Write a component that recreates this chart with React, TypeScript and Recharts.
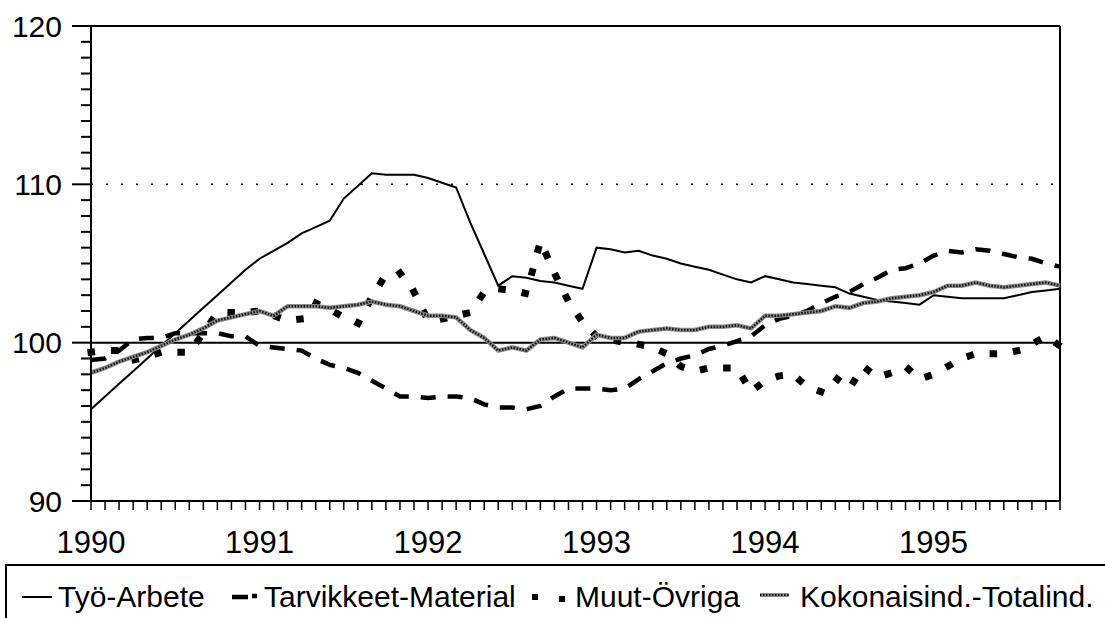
import React from "react";
import { LineChart, Line, XAxis, YAxis, ReferenceLine } from "recharts";

// monthly index values, Jan 1990 .. Oct 1995 (1990 = 100 base)
const yearLabels = ["1990", "1991", "1992", "1993", "1994", "1995"];

const tyo = [
  95.8, 96.6, 97.4, 98.2, 99.0, 99.8, 100.6, 101.4, 102.2, 103.0, 103.8, 104.6,
  105.3, 105.8, 106.3, 106.9, 107.3, 107.7, 109.1, 109.9, 110.7, 110.6, 110.6, 110.6,
  110.4, 110.1, 109.8, 107.6, 105.6, 103.6, 104.2, 104.1, 103.9, 103.8, 103.6, 103.4,
  106.0, 105.9, 105.7, 105.8, 105.5, 105.3, 105.0, 104.8, 104.6, 104.3, 104.0, 103.8,
  104.2, 104.0, 103.8, 103.7, 103.6, 103.5, 103.1, 102.9, 102.7, 102.6, 102.5, 102.4,
  103.0, 102.9, 102.8, 102.8, 102.8, 102.8, 103.0, 103.2, 103.3, 103.4,
];

const tarvikkeet = [
  98.9, 99.0, 99.5, 100.2, 100.3, 100.3, 100.6, 100.6, 100.6, 100.6, 100.4, 100.4,
  99.8, 99.7, 99.6, 99.5, 99.0, 98.6, 98.4, 98.1, 97.6, 97.1, 96.6, 96.6,
  96.5, 96.6, 96.6, 96.5, 96.1, 95.9, 95.9, 95.8, 96.0, 96.6, 97.1, 97.1,
  97.1, 97.0, 97.1, 97.7, 98.2, 98.7, 99.0, 99.2, 99.6, 99.8, 100.1, 100.4,
  101.1, 101.5, 101.7, 102.0, 102.5, 102.9, 103.2, 103.7, 104.1, 104.6, 104.7, 105.0,
  105.5, 105.8, 105.7, 105.9, 105.8, 105.6, 105.4, 105.3, 105.0, 104.8,
];

const muut = [
  99.4, 99.5, 99.5, 98.9, 99.1, 99.4, 99.4, 99.4, 100.6, 101.9, 101.9, 101.9,
  102.0, 101.7, 101.4, 101.5, 102.5, 102.1, 101.6, 101.2, 102.9, 104.3, 104.4, 103.2,
  101.4, 101.5, 101.7, 101.9, 103.2, 103.4, 103.3, 103.1, 106.4, 104.4, 102.6, 101.3,
  100.4, 100.2, 100.0, 99.9, 99.7, 99.3, 98.5, 98.2, 98.4, 98.4, 98.4, 96.9,
  97.6, 97.9, 98.0, 97.2, 96.9, 97.8, 97.1, 98.5, 97.8, 98.1, 98.5, 97.7,
  98.0, 98.5, 99.0, 99.3, 99.3, 99.3, 99.5, 99.9, 100.4, 99.8,
];

const kokonais = [
  98.1, 98.4, 98.8, 99.1, 99.4, 99.8, 100.2, 100.5, 100.9, 101.4, 101.6, 101.8,
  102.0, 101.7, 102.3, 102.3, 102.3, 102.2, 102.3, 102.4, 102.6, 102.4, 102.3, 102.0,
  101.7, 101.7, 101.6, 100.8, 100.3, 99.5, 99.7, 99.5, 100.2, 100.3, 100.0, 99.7,
  100.5, 100.3, 100.3, 100.7, 100.8, 100.9, 100.8, 100.8, 101.0, 101.0, 101.1, 100.9,
  101.7, 101.7, 101.8, 101.9, 102.0, 102.3, 102.2, 102.5, 102.6, 102.8, 102.9, 103.0,
  103.2, 103.6, 103.6, 103.8, 103.6, 103.5, 103.6, 103.7, 103.8, 103.6,
];

const yMajor = [90, 100, 110, 120];
const yTicks = Array.from({ length: 31 }, (_, k) => 90 + k);
const monthTicks = tyo.map((_, i) => i);

const data = tyo.map((v, i) => ({
  m: i,
  tyo: v,
  tarvikkeet: tarvikkeet[i],
  muut: muut[i],
  kokonais: kokonais[i],
}));

const FONT = "'Liberation Sans', Arial, Helvetica, sans-serif";

// tick anchor x sits 31px left of the axis line (tickSize 10 + tickMargin 21)
const YTick = (props: any) => {
  const x = Number(props.x);
  const y = Number(props.y);
  const v = props.payload.value;
  const major = yMajor.includes(v);
  return (
    <g>
      <rect x={major ? x + 12 : x + 21} y={y - 1} width={major ? 19 : 10} height={2} fill="#000" />
      {major && (
        <text x={x + 2} y={y} dy="0.36em" textAnchor="end" fontSize={30} fontFamily={FONT} fill="#000">
          {v}
        </text>
      )}
    </g>
  );
};

const legendFont = { fontFamily: FONT, fontSize: 30, fill: "#000" } as const;

const LegendBox = () => (
  <svg width={1105} height={618 - 563} style={{ position: "absolute", left: 0, top: 563 }}>
    <rect x={6} y={2} width={1120} height={80} fill="none" stroke="#000" strokeWidth={2} />
    <line x1={22} x2={52} y1={34} y2={34} stroke="#000" strokeWidth={2} />
    <text x={58} y={44} {...legendFont}>Työ-Arbete</text>
    <line x1={232} x2={248} y1={34} y2={34} stroke="#000" strokeWidth={4.5} />
    <line x1={252} x2={257} y1={33} y2={33} stroke="#000" strokeWidth={4.5} />
    <text x={264} y={44} {...legendFont}>Tarvikkeet-Material</text>
    <rect x={532} y={31} width={6} height={6} fill="#000" />
    <rect x={559} y={33} width={6} height={6} fill="#000" />
    <text x={575} y={44} {...legendFont}>Muut-Övriga</text>
    <line x1={760} x2={789} y1={32} y2={32} stroke="#8c8c8c" strokeWidth={4} />
    <line x1={760} x2={789} y1={32} y2={32} stroke="#111" strokeWidth={2} strokeDasharray="1.5 1.5" />
    <text x={800} y={44} {...legendFont}>Kokonaisind.-Totalind.</text>
  </svg>
);

export default function App() {
  return (
    <div
      style={{
        position: "absolute",
        left: 0,
        top: 0,
        width: 1105,
        height: 618,
        overflow: "hidden",
        background: "#fff",
      }}
    >
      <LineChart
        width={1105}
        height={618}
        data={data}
        margin={{ top: 26, right: 45, bottom: 57, left: 0 }}
      >
        <XAxis
          dataKey="m"
          type="number"
          domain={[0, 69]}
          ticks={monthTicks}
          interval={0}
          tickSize={9}
          tickMargin={21}
          axisLine={{ stroke: "#000", strokeWidth: 2 }}
          tickLine={{ stroke: "#000", strokeWidth: 1.5 }}
          tick={{ fontSize: 31, fill: "#000", fontFamily: FONT }}
          tickFormatter={(i: number) => (i % 12 === 0 ? yearLabels[i / 12] : "")}
          height={60}
        />
        <YAxis
          type="number"
          domain={[90, 120]}
          ticks={yTicks}
          interval={0}
          width={91}
          tickSize={10}
          tickMargin={21}
          tickLine={false}
          axisLine={{ stroke: "#000", strokeWidth: 2 }}
          tick={<YTick />}
        />
        <ReferenceLine y={110} stroke="#000" strokeWidth={1.5} strokeDasharray="2 13" />
        <ReferenceLine y={100} stroke="#000" strokeWidth={2} />
        <ReferenceLine y={120} stroke="#000" strokeWidth={2} />
        <ReferenceLine x={69} stroke="#000" strokeWidth={2} />
        <Line
          dataKey="tyo"
          stroke="#000"
          strokeWidth={2}
          dot={false}
          type="linear"
          isAnimationActive={false}
        />
        <Line
          dataKey="tarvikkeet"
          stroke="#000"
          strokeWidth={4.5}
          strokeDasharray="15 12"
          dot={false}
          type="linear"
          isAnimationActive={false}
        />
        <Line
          dataKey="muut"
          stroke="#000"
          strokeWidth={7}
          strokeDasharray="0.5 23"
          strokeLinecap="square"
          dot={false}
          type="linear"
          isAnimationActive={false}
        />
        <Line
          dataKey="kokonais"
          stroke="#8c8c8c"
          strokeWidth={4.5}
          dot={false}
          type="linear"
          isAnimationActive={false}
        />
        <Line
          dataKey="kokonais"
          stroke="#111"
          strokeWidth={2.5}
          strokeDasharray="1.5 1.5"
          dot={false}
          type="linear"
          isAnimationActive={false}
        />
      </LineChart>
      <LegendBox />
    </div>
  );
}
